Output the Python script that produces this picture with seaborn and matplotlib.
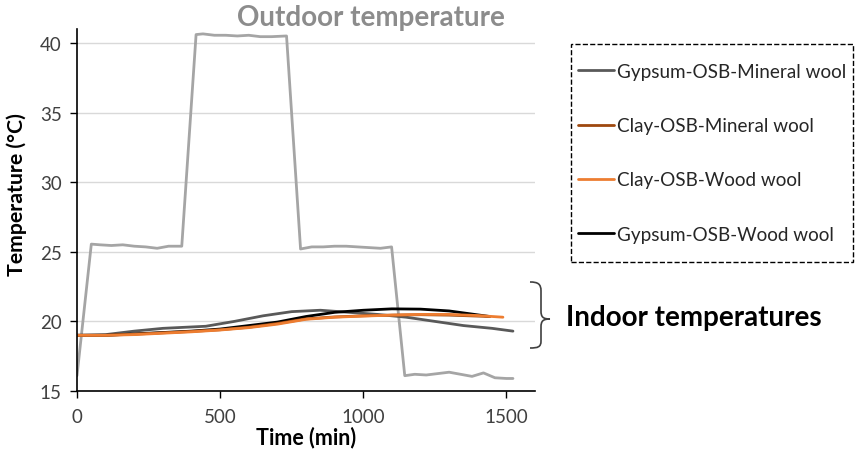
import matplotlib
matplotlib.use("Agg")
import matplotlib.pyplot as plt
from matplotlib.path import Path
from matplotlib.patches import PathPatch, Rectangle
import seaborn as sns

# Outdoor temperature profile (min, °C)
outdoor_time = [0, 50, 80, 120, 160, 200, 240, 280, 320, 366,
                416, 440, 480, 520, 560, 600, 640, 680, 732,
                781, 820, 860, 900, 940, 980, 1020, 1060, 1099,
                1145, 1180, 1220, 1260, 1300, 1340, 1380, 1420, 1460, 1500, 1523]
outdoor_temp = [16.1, 25.55, 25.5, 25.45, 25.5, 25.4, 25.35, 25.25, 25.4, 25.4,
                40.6, 40.65, 40.55, 40.55, 40.5, 40.55, 40.45, 40.45, 40.5,
                25.2, 25.35, 25.35, 25.4, 25.4, 25.35, 25.3, 25.25, 25.35,
                16.1, 16.2, 16.15, 16.25, 16.35, 16.2, 16.05, 16.3, 15.95, 15.9, 15.9]

# Indoor temperatures for each wall assembly
gm_time = [0, 100, 200, 300, 450, 550, 650, 750, 850, 950, 1050, 1150, 1250, 1350, 1450, 1523]
gm_temp = [19.0, 19.05, 19.3, 19.5, 19.65, 20.0, 20.4, 20.7, 20.8, 20.65, 20.5, 20.3, 20.0, 19.7, 19.5, 19.3]

gw_time = [0, 100, 200, 300, 400, 500, 600, 700, 800, 900, 1000, 1100, 1200, 1300, 1442]
gw_temp = [19.0, 19.0, 19.1, 19.2, 19.3, 19.45, 19.7, 19.95, 20.35, 20.65, 20.8, 20.9, 20.88, 20.75, 20.35]

cm_time = [0, 100, 200, 300, 400, 500, 600, 700, 800, 900, 1000, 1100, 1200, 1300, 1442]
cm_temp = [19.0, 19.0, 19.08, 19.18, 19.28, 19.4, 19.58, 19.85, 20.18, 20.32, 20.4, 20.45, 20.48, 20.45, 20.35]

cw_time = [0, 100, 200, 300, 400, 500, 600, 700, 800, 900, 1000, 1100, 1200, 1300, 1400, 1488]
cw_temp = [19.0, 19.0, 19.05, 19.15, 19.25, 19.38, 19.55, 19.8, 20.15, 20.3, 20.38, 20.45, 20.5, 20.5, 20.42, 20.3]

series_names = ["Gypsum-OSB-Mineral wool", "Clay-OSB-Mineral wool",
                "Clay-OSB-Wood wool", "Gypsum-OSB-Wood wool"]
series_colors = ["#595959", "#9E480E", "#ED7D31", "#000000"]

x_ticks = [0, 500, 1000, 1500]
y_ticks = [15, 20, 25, 30, 35, 40]

sns.set_theme(style="white")
plt.rcParams["font.family"] = ["Lato", "DejaVu Sans"]

W, H = 856, 452


def fx(px):
    return px / W


def fy(py):
    return 1 - py / H


fig = plt.figure(figsize=(W / 100, H / 100), dpi=100)
ax = fig.add_axes([fx(77), fy(392), (535 - 77) / W, (392 - 30) / H])

ax.yaxis.grid(True, color="#d9d9d9", linewidth=1)
ax.set_axisbelow(True)

sns.lineplot(x=outdoor_time, y=outdoor_temp, ax=ax, color="#A5A5A5", linewidth=2)

draw_order = [0, 3, 1, 2]
series_data = [(gm_time, gm_temp), (cm_time, cm_temp), (cw_time, cw_temp), (gw_time, gw_temp)]
handles = {}
for i in draw_order:
    t, v = series_data[i]
    sns.lineplot(x=t, y=v, ax=ax, color=series_colors[i], linewidth=2)
    handles[series_names[i]] = ax.get_lines()[-1]

ax.set_xlim(0, 1600)
ax.set_ylim(15, 41)
ax.set_xticks(x_ticks)
ax.set_yticks(y_ticks)
ax.tick_params(axis="both", which="major", length=5, width=1, color="black",
               direction="out", labelsize=13.5, labelcolor="#404040",
               bottom=True, left=True)
ax.tick_params(axis="x", pad=7)
ax.tick_params(axis="y", pad=6)
for side in ["top", "right"]:
    ax.spines[side].set_visible(False)
for side in ["left", "bottom"]:
    ax.spines[side].set_color("black")
    ax.spines[side].set_linewidth(1.2)

ax.set_xlabel("Time (min)", fontsize=15.5, fontweight="bold", color="black", labelpad=1)
fig.text(fx(17), fy(195), "Temperature (°C)", rotation=90, ha="center", va="center",
         fontsize=15.3, fontweight="bold", color="black")

fig.text(fx(371), fy(18), "Outdoor temperature", ha="center", va="center",
         fontsize=20, fontweight="bold", color="#8c8c8c")

# Legend entries, with a dashed box around them
leg = fig.legend([handles[n] for n in series_names], series_names,
                 loc="upper left", bbox_to_anchor=(fx(578), fy(64)),
                 frameon=False, fontsize=13.6, labelspacing=1.97,
                 handlelength=1.9, handletextpad=0.15, borderpad=0, borderaxespad=0)
for txt in leg.get_texts():
    txt.set_color("#262626")
fig.patches.append(Rectangle((fx(571), fy(263)), fx(853) - fx(571), fy(45) - fy(263),
                             transform=fig.transFigure, fill=False, edgecolor="black",
                             linestyle="--", linewidth=1))

# Curly brace grouping the indoor curves
verts = [
    (fx(530), fy(283)),
    (fx(538), fy(283)), (fx(541), fy(285)), (fx(541), fy(292)),
    (fx(541), fy(312)),
    (fx(541), fy(318)), (fx(543), fy(320)), (fx(550), fy(320)),
    (fx(543), fy(320)), (fx(541), fy(322)), (fx(541), fy(328)),
    (fx(541), fy(342)),
    (fx(541), fy(348)), (fx(538), fy(349)), (fx(530), fy(349)),
]
codes = [Path.MOVETO,
         Path.CURVE4, Path.CURVE4, Path.CURVE4,
         Path.LINETO,
         Path.CURVE4, Path.CURVE4, Path.CURVE4,
         Path.CURVE4, Path.CURVE4, Path.CURVE4,
         Path.LINETO,
         Path.CURVE4, Path.CURVE4, Path.CURVE4]
fig.patches.append(PathPatch(Path(verts, codes), transform=fig.transFigure,
                             facecolor="none", edgecolor="#404040", linewidth=1.2))

fig.text(fx(566), fy(318), "Indoor temperatures", ha="left", va="center",
         fontsize=20, fontweight="bold", color="black")

fig.savefig("out.png", dpi=100)
